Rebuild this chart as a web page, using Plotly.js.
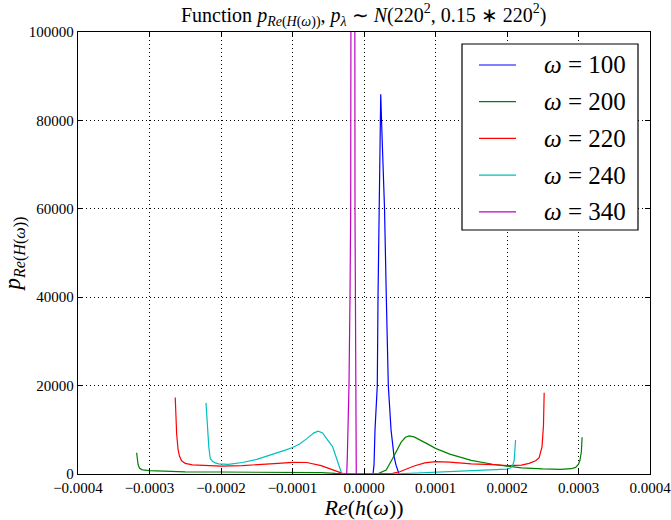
<!DOCTYPE html>
<html>
<head>
<meta charset="utf-8">
<script src="https://cdn.plot.ly/plotly-3.0.1.min.js"></script>
<style>html,body{margin:0;padding:0;background:#fff;}#chart{width:671px;height:520px;}</style>
</head>
<body>
<div id="chart"></div>
<script>
// ω = 100
const x100 = [1.26e-5, 1.40e-5, 1.54e-5, 1.70e-5, 1.86e-5, 1.96e-5, 2.10e-5, 2.24e-5, 2.34e-5, 2.45e-5, 2.65e-5, 2.87e-5, 3.12e-5, 3.40e-5, 3.78e-5, 4.20e-5, 4.48e-5, 4.90e-5];
const y100 = [0, 2000, 10000, 15000, 20000, 40000, 60000, 80000, 85900, 80000, 70000, 60000, 40000, 20000, 10000, 4000, 2000, 0];
// ω = 200
const x200 = [-3.18e-4, -3.16e-4, -3.14e-4, -3.1e-4, -3.0e-4, -2.8e-4, -2.5e-4, -2.0e-4, -1.5e-4, -1.0e-4, -6e-5, -4e-5, -2e-5, 0, 2e-5, 3.1e-5, 4e-5, 4.6e-5, 5.2e-5, 5.8e-5, 6.3e-5, 7e-5, 8e-5, 9e-5, 1.0e-4, 1.2e-4, 1.5e-4, 1.8e-4, 2.0e-4, 2.2e-4, 2.5e-4, 2.75e-4, 2.9e-4, 2.96e-4, 3.0e-4, 3.02e-4, 3.04e-4, 3.05e-4];
const y200 = [4800, 2200, 1300, 950, 750, 600, 500, 450, 400, 380, 300, 150, 30, 0, 100, 900, 3500, 5400, 7200, 8300, 8600, 8400, 7600, 6700, 5800, 4500, 3100, 2200, 1800, 1400, 1150, 1050, 1200, 1500, 2200, 3100, 5000, 8300];
// ω = 220
const x220 = [-2.64e-4, -2.62e-4, -2.6e-4, -2.58e-4, -2.55e-4, -2.5e-4, -2.4e-4, -2.2e-4, -2.0e-4, -1.7e-4, -1.5e-4, -1.2e-4, -1.0e-4, -8e-5, -6e-5, -5e-5, -4.4e-5, -4e-5, -3.5e-5, -3e-5, -2.5e-5, 3e-5, 4e-5, 5e-5, 6e-5, 7e-5, 8.5e-5, 1.0e-4, 1.2e-4, 1.5e-4, 1.8e-4, 2.0e-4, 2.2e-4, 2.31e-4, 2.4e-4, 2.45e-4, 2.49e-4, 2.51e-4, 2.52e-4];
const y220 = [17300, 9000, 5500, 4000, 3000, 2400, 2050, 1850, 1800, 1900, 2050, 2400, 2650, 2600, 1900, 1300, 900, 700, 400, 150, 0, 0, 150, 500, 1100, 1800, 2500, 2800, 2700, 2300, 2100, 1900, 2000, 2400, 3000, 3700, 6200, 11000, 18400];
// ω = 240
const x240 = [-2.21e-4, -2.19e-4, -2.17e-4, -2.15e-4, -2.12e-4, -2.08e-4, -2.03e-4, -1.9e-4, -1.7e-4, -1.5e-4, -1.3e-4, -1.1e-4, -1.0e-4, -9e-5, -8e-5, -7e-5, -6.4e-5, -5.8e-5, -5e-5, -4.4e-5, -4e-5, -3.5e-5, -3.1e-5, 4e-5, 6e-5, 8e-5, 1.0e-4, 1.3e-4, 1.6e-4, 1.8e-4, 2.0e-4, 2.05e-4, 2.08e-4, 2.1e-4, 2.12e-4];
const y240 = [16100, 9500, 6000, 3500, 2900, 2500, 2300, 2200, 2600, 3300, 4300, 5400, 6000, 6800, 8000, 9300, 9700, 9300, 7500, 6200, 4300, 1800, 0, 0, 150, 350, 500, 650, 800, 950, 1100, 1400, 2000, 3000, 7700];
// ω = 340
const x340 = [-2.6e-5, -2.42e-5, -2.33e-5, -2.24e-5, -2.1e-5, -1.96e-5, -1.86e-5, -1.8e-5, -1.6e-5, -1.4e-5, -1.3e-5, -1.26e-5, -1.2e-5, -1.16e-5, -1.12e-5, -1.08e-5, -0.9e-5];
const y340 = [0, 0, 4000, 10000, 20000, 40000, 60000, 140000, 125000, 125000, 140000, 60000, 35000, 20000, 8000, 0, 0];

const labels = ['<i>ω</i> = 100', '<i>ω</i> = 200', '<i>ω</i> = 220', '<i>ω</i> = 240', '<i>ω</i> = 340'];
const colors = ['#0000ff', '#008000', '#ff0000', '#00bfbf', '#bf00bf'];

const xTickVals = [-0.0004, -0.0003, -0.0002, -0.0001, 0, 0.0001, 0.0002, 0.0003, 0.0004];
const xTickText = ['−0.0004', '−0.0003', '−0.0002', '−0.0001', '0.0000', '0.0001', '0.0002', '0.0003', '0.0004'];
const yTickVals = [0, 20000, 40000, 60000, 80000, 100000];
const yTickText = ['0', '20000', '40000', '60000', '80000', '100000'];

const xs = [x100, x200, x220, x240, x340];
const ys = [y100, y200, y220, y240, y340];
const traces = xs.map((x, i) => ({
  x: x, y: ys[i], type: 'scatter', mode: 'lines', name: labels[i],
  showlegend: false,
  line: {color: colors[i], width: 1.2}
}));

const serif = 'Liberation Serif';

// legend drawn as a framed box in paper coordinates
const plotL = 78, plotR = 650, plotT = 32, plotB = 474;
const px2x = p => (p - plotL) / (plotR - plotL);
const px2y = p => (plotB - p) / (plotB - plotT);
const shapes = [{
  type: 'rect', xref: 'paper', yref: 'paper',
  x0: px2x(462), x1: px2x(638), y0: px2y(230), y1: px2y(44),
  fillcolor: '#fff', line: {color: '#000', width: 1.2}, layer: 'above'
}];
const annotations = [];
labels.forEach((lab, i) => {
  const py = 65 + i * 36.7;
  shapes.push({type: 'line', xref: 'paper', yref: 'paper', x0: px2x(479), x1: px2x(516), y0: px2y(py), y1: px2y(py),
    line: {color: colors[i], width: 1.2}, layer: 'above'});
  annotations.push({xref: 'paper', yref: 'paper', x: px2x(628), y: px2y(py), xanchor: 'right', yanchor: 'middle',
    text: lab, showarrow: false, font: {family: serif, size: 25, color: '#000'}});
});

const axisCommon = {
  showline: true, linecolor: '#000', linewidth: 1.2, mirror: 'allticks',
  ticks: 'inside', ticklen: 5, tickcolor: '#000', tickwidth: 1,
  showgrid: true, gridcolor: '#000', griddash: '1px,3px', gridwidth: 1,
  zeroline: false, ticklabeloverflow: 'allow',
  tickfont: {family: serif, size: 15, color: '#000'}
};

const layout = {
  width: 671, height: 520,
  margin: {l: plotL, r: 671 - plotR, t: plotT, b: 520 - plotB},
  paper_bgcolor: '#fff', plot_bgcolor: '#fff',
  font: {family: serif, color: '#000'},
  title: {text: 'Function <i>p</i><sub><i>Re</i>(<i>H</i>(<i>ω</i>))</sub>, <i>p</i><sub><i>λ</i></sub> ∼ <i>N</i>(220<sup>2</sup>, 0.15 ∗ 220<sup>2</sup>)',
    font: {family: serif, size: 20, color: '#000'}, x: 0.542, xanchor: 'center', y: 0.972, yanchor: 'middle'},
  xaxis: Object.assign({}, axisCommon, {
    range: [-0.0004, 0.0004], tickvals: xTickVals, ticktext: xTickText,
    title: {text: '<i>Re</i>(<i>h</i>(<i>ω</i>))', font: {family: serif, size: 22, color: '#000'}, standoff: 3}
  }),
  yaxis: Object.assign({}, axisCommon, {
    range: [0, 100000], tickvals: yTickVals, ticktext: yTickText,
    title: {text: '<i>p</i><sub><i>Re</i>(<i>H</i>(<i>ω</i>))</sub>', font: {family: serif, size: 23, color: '#000'}, standoff: 6}
  }),
  shapes: shapes,
  annotations: annotations,
  showlegend: false
};

Plotly.newPlot('chart', traces, layout, {displayModeBar: false, staticPlot: true});
</script>
</body>
</html>
